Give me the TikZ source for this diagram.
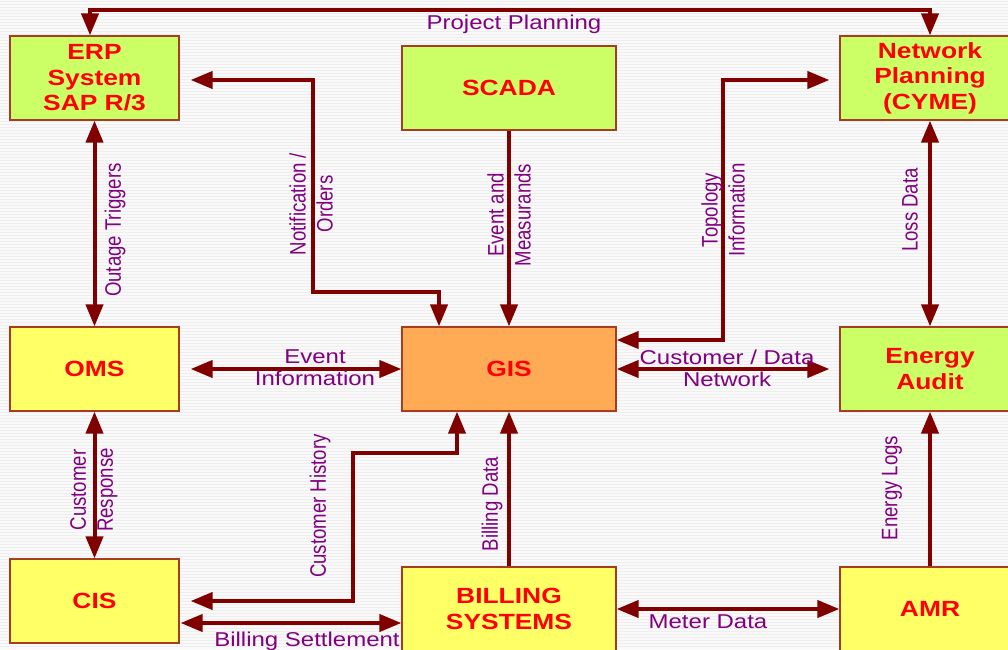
\documentclass[tikz,border=0pt]{standalone}
\usepackage{fontspec}
\usetikzlibrary{arrows.meta}
% Stretched Arial-like faces: wide for level text, narrow for upright text
\newfontfamily\boxfont{Liberation Sans}[FakeStretch=1.2]
\newfontfamily\flowfont{Liberation Sans}[FakeStretch=1.2]
\newfontfamily\upfont{Liberation Sans}[FakeStretch=0.83]
\definecolor{maroonline}{RGB}{128,0,0}
\definecolor{boxedge}{RGB}{165,60,35}
\definecolor{limefill}{RGB}{204,255,102}
\definecolor{lemonfill}{RGB}{255,255,102}
\definecolor{orangefill}{RGB}{255,170,85}
\definecolor{flowtext}{RGB}{128,0,128}
\definecolor{bgbase}{RGB}{238,238,238}
\definecolor{bgstripe}{RGB}{249,249,249}

\begin{document}
\begin{tikzpicture}[x=1pt,y=-1pt,
  sysbox/.style={draw=boxedge, line width=1.2pt, rectangle, inner sep=0pt,
    text=red, align=center, font=\boxfont\bfseries\fontsize{22}{25.5}\selectfont},
  leftcol/.style={sysbox, minimum width=169pt, minimum height=84pt},
  midcol/.style={sysbox, minimum width=214pt, minimum height=84pt},
  rightcol/.style={sysbox, minimum width=180pt, minimum height=84pt},
  tip/.tip={Triangle[length=22pt,width=17pt]},
  flow/.style={draw=maroonline, line width=4pt, -tip},
  both/.style={draw=maroonline, line width=4pt, tip-tip},
  flowlabel/.style={text=flowtext, inner sep=0pt, align=center,
    font=\flowfont\fontsize{20}{22}\selectfont},
  uplabel/.style={text=flowtext, inner sep=0pt, align=center, rotate=90,
    font=\upfont\fontsize{22.4}{27}\selectfont}]

\useasboundingbox (0,0) rectangle (1008,649);
\clip (0,0) rectangle (1008,649);

% striped light grey backdrop
\fill[bgbase] (0,0) rectangle (1008,649);
\foreach \k in {0,3,...,648} \draw[bgstripe, line width=1.2pt] (0,\k) -- (1008,\k);

% systems
\node[leftcol,  fill=limefill]   (erp)   at (94.5,78)  {ERP\\System\\SAP R/3};
\node[midcol,   fill=limefill]   (scada) at (509,88)   {SCADA};
\node[rightcol, fill=limefill]   (net)   at (930,78)   {Network\\Planning\\(CYME)};
\node[leftcol,  fill=lemonfill]  (oms)   at (94.5,369) {OMS};
\node[midcol,   fill=orangefill] (gis)   at (509,369)  {GIS};
\node[rightcol, fill=limefill]   (audit) at (930,369)  {Energy\\Audit};
\node[leftcol,  fill=lemonfill]  (cis)   at (94.5,601) {CIS};
\node[midcol,   fill=lemonfill]  (bill)  at (509,609)  {BILLING\\SYSTEMS};
\node[rightcol, fill=lemonfill]  (amr)   at (930,609)  {AMR};

% data flows
\draw[both] ([xshift=-4.5pt]erp.north) -- ++(0,-25) -| (net.north);
\draw[both] ([xshift=11pt,yshift=-2pt]erp.east) -| (313,292) -| ([xshift=-70pt]gis.north);
\draw[flow] (scada.south) -- (gis.north);
\draw[both] ([yshift=29pt]gis.east) -| (723,80) -- ([xshift=-10pt,yshift=-2pt]net.west);
\draw[both] (net.south) -- (audit.north);
\draw[both] (erp.south) -- (oms.north);
\draw[both] ([xshift=11pt]oms.east) -- (gis.west);
\draw[both] (gis.east) -- ([xshift=-10pt]audit.west);
\draw[both] (oms.south) -- (cis.north);
\draw[both] ([xshift=11pt]cis.east) -| (353,453) -| ([xshift=-52pt]gis.south);
\draw[flow] (bill.north) -- (gis.south);
\coordinate (settle) at ([xshift=1pt,yshift=-22pt]cis.east);
\draw[both] (settle) -- (settle -| bill.west);
\draw[both] (bill.east) -- (amr.west);
\draw[flow] (amr.north) -- (audit.south);

% flow labels
\node[flowlabel] (lpp)   at (514,24)  {Project Planning};
\node[flowlabel] (lev)   at (315,368) {Event\\Information};
\node[flowlabel] (lcdn)  at (727,368) {Customer / Data\\Network};
\node[flowlabel] (lset)  at (307,641) {Billing Settlement};
\node[flowlabel] (lmet)  at (708,622) {Meter Data};
\node[uplabel] (lnot)  at (311,204) {Notification /\\Orders};
\node[uplabel] (levm)  at (509,215) {Event and\\Measurands};
\node[uplabel] (ltopo) at (723,210) {Topology\\Information};
\node[uplabel] (lout)  at (115,230) {Outage Triggers};
\node[uplabel] (lloss) at (910,210) {Loss Data};
\node[uplabel] (lresp) at (94,490)  {Customer\\Response};
\node[uplabel] (lhist) at (320,506) {Customer History};
\node[uplabel] (lbd)   at (492,504) {Billing Data};
\node[uplabel] (llog)  at (892,488) {Energy Logs};
\end{tikzpicture}
\end{document}
